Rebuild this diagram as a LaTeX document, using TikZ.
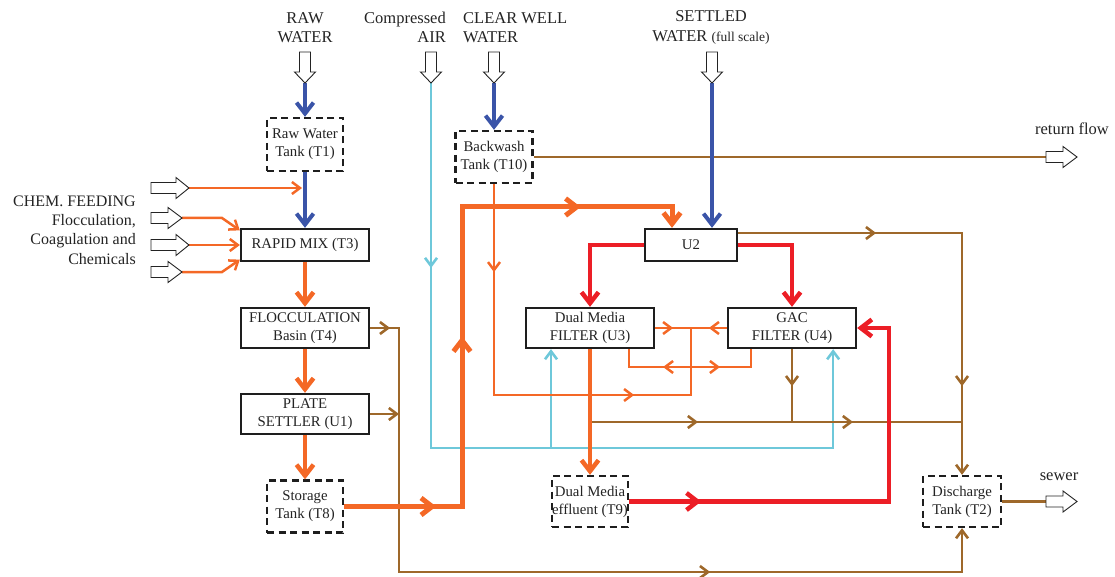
\documentclass[tikz,border=0pt]{standalone}
\usepackage{fontspec}
\setmainfont{Liberation Serif}
\usetikzlibrary{arrows.meta,decorations.markings,calc}
\definecolor{cblue}{RGB}{58,84,168}
\definecolor{corange}{RGB}{244,104,38}
\definecolor{cred}{RGB}{236,30,38}
\definecolor{cbrown}{RGB}{158,104,42}
\definecolor{ccyan}{RGB}{110,200,218}
\definecolor{cbox}{RGB}{30,30,30}
\definecolor{ctext}{RGB}{35,35,35}
\tikzset{
  btip/.tip={Straight Barb[length=11pt,width=17pt]},
  stip/.tip={Straight Barb[length=8pt,width=12pt]},
  unit/.style={draw=cbox, line width=2.3pt, align=center, inner sep=0pt, text=ctext, font=\fontsize{14.8}{18}\selectfont},
  tank/.style={unit, dash pattern=on 7pt off 4.5pt},
  lbl/.style={text=ctext, font=\fontsize{16.5}{19.5}\selectfont, inner sep=0pt},
  bluel/.style={draw=cblue, line width=4pt},
  orB/.style={draw=corange, line width=4.5pt},
  orS/.style={draw=corange, line width=2.5pt},
  redl/.style={draw=cred, line width=4.5pt},
  brl/.style={draw=cbrown, line width=2.6pt},
  cyl/.style={draw=ccyan, line width=2.6pt},
  mkb/.style={postaction={decorate,decoration={markings,mark=at position #1 with {\arrow{btip}}}}},
  mks/.style={postaction={decorate,decoration={markings,mark=at position #1 with {\arrow{stip}}}}},
  pics/hollow/.style 2 args={code={\draw[line width=0.9pt, draw=ctext, fill=white] (0,-5.5) -- (#2,-5.5) -- (#2,-10.5) -- (#1,0) -- (#2,10.5) -- (#2,5.5) -- (0,5.5) -- cycle;}},
}
\begin{document}
\begin{tikzpicture}[x=1pt,y=-1pt,line join=miter]
\useasboundingbox (0,0) rectangle (1115,577);

% ---------- nodes ----------
\node[tank, minimum width=76pt, minimum height=53pt] (T1) at (305,144.5) {Raw Water\\Tank (T1)};
\node[unit, minimum width=128pt, minimum height=32pt] (T3) at (305,245) {RAPID MIX (T3)};
\node[unit, minimum width=128pt, minimum height=40pt] (T4) at (305,328) {FLOCCULATION\\Basin (T4)};
\node[unit, minimum width=128pt, minimum height=40pt] (U1) at (305,414) {PLATE\\SETTLER (U1)};
\node[tank, minimum width=76pt, minimum height=52pt] (T8) at (305,506.5) {Storage\\Tank (T8)};
\node[tank, minimum width=77pt, minimum height=52pt] (T10) at (494,157) {Backwash\\Tank (T10)};
\node[unit, minimum width=92pt, minimum height=32pt] (U2) at (691,245) {U2};
\node[unit, minimum width=128pt, minimum height=40pt] (U3) at (590,328) {Dual Media\\FILTER (U3)};
\node[unit, minimum width=128pt, minimum height=40pt] (U4) at (792,328) {GAC\\FILTER (U4)};
\node[tank, minimum width=76pt, minimum height=51pt] (T9) at (590,501.5) {Dual Media\\effluent (T9)};
\node[tank, minimum width=78pt, minimum height=51pt] (T2) at (962,501.5) {Discharge\\Tank (T2)};

% ---------- labels ----------
\node[lbl, align=center] (rawlbl) at (305,27.5) {RAW\\WATER};
\node[lbl, align=right, anchor=east] (airlbl) at (446,27.5) {Compressed\\AIR};
\node[lbl, align=left, anchor=west] (cwlbl) at (463,27.5) {CLEAR WELL\\WATER};
\node[lbl, align=center] (stlbl) at (711,27.5) {SETTLED\\WATER {\fontsize{13.5}{14}\selectfont(full scale)}};
\node[lbl, align=right, anchor=east, font=\fontsize{16}{19.3}\selectfont] (chemlbl) at (136,230) {CHEM. FEEDING\\Flocculation,\\Coagulation and\\Chemicals};
\node[lbl] (retlbl) at (1072,129) {return flow};
\node[lbl] (sewlbl) at (1059,477) {sewer};

% ---------- coordinates ----------
\coordinate (rawtip) at (305,83);
\coordinate (airtip) at (431,83);
\coordinate (cwtip) at (494,83);
\coordinate (sttip) at (712,83);
\coordinate (c1) at (189,188);
\coordinate (c2) at (182,218);
\coordinate (c3) at (189,245);
\coordinate (c4) at (182,272);
\coordinate (retin) at (1046,157);
\coordinate (sewin) at (1046,501.5);
\coordinate (sA) at (462,207);
\coordinate (oj) at (691,328);
\coordinate (oj2) at (691,367);
\coordinate (oj3) at (691,395);
\coordinate (bk) at (399,572);
\coordinate (bj1) at (590,422);
\coordinate (bj2) at (962,422);
\coordinate (cy) at (431,448);
\coordinate (cy2) at (551,448);

% ---------- cyan (air) ----------
\draw[cyl,-{stip}, mks=185pt] (airtip) -- (cy) -| ($(U4.south east)+(-24,0)$);
\draw[cyl,-{stip}] (cy2) -- (cy2 |- U3.south);

% ---------- brown ----------
\draw[brl,-{stip}, mks=138pt, mks=377pt] ($(U2.east)+(0,-12)$) -| (T2.north);
\draw[brl] (T10.east) -- (retin);
\draw[brl,-{stip}, mks=20pt, mks=584pt] (T4.east) -| (bk) -| (T2.south);
\draw[brl,-{stip}] (U1.east) -- (U1.east -| bk);
\draw[brl, mks=108pt, mks=263pt] (bj1) -- (bj2);
\draw[brl, mks=37pt] (U4.south) -- (U4.south |- bj1);
\draw[brl] (T2.east) -- (sewin);

% ---------- orange thin ----------
\draw[orS,-{stip}] (c1) -- ($(c1 -| T1.south)+(-3,0)$);
\draw[orS,-{stip}] (c2) -- ++(40,0) -- ($(T3.north west)+(0,2.5)$);
\draw[orS,-{stip}] (c3) -- (c3 -| T3.west);
\draw[orS,-{stip}] (c4) -- ++(40,0) -- ($(T3.south west)+(0,-2.5)$);
\draw[orS, mks=88pt, mks=351pt] (T10.south) |- (oj3) -- (oj);
\draw[orS, mks=18pt] (U3.east) -- (oj);
\draw[orS, mks=18pt] (U4.west) -- (oj);
\draw[orS, mks=28pt] (oj2) -| ($(U3.south east)+(-26,0)$);
\draw[orS, mks=29pt] (oj2) -| ($(U4.south west)+(24,0)$);

% ---------- orange thick ----------
\draw[orB,-{btip}] (T3.south) -- (T4.north);
\draw[orB,-{btip}] (T4.south) -- (U1.north);
\draw[orB,-{btip}] (U1.south) -- (T8.north);
\draw[orB, line width=5pt, -{btip}, mkb=92pt, mkb=288pt, mkb=536pt] (T8.east) -| (sA) -| ($(U2.north)+(-19,0)$);
\draw[orB,-{btip}] (U3.south) -- (T9.north);

% ---------- red ----------
\draw[redl,-{btip}] (U2.west) -| (U3.north);
\draw[redl,-{btip}] (U2.east) -| (U4.north);
\draw[redl,-{btip}, mkb=72pt] (T9.east) -| ($(U4.east)+(32,0)$) -- (U4.east);

% ---------- blue ----------
\draw[bluel,-{btip}] (rawtip) -- (T1.north);
\draw[bluel,-{btip}] (T1.south) -- (T3.north);
\draw[bluel,-{btip}] (cwtip) -- (cwtip |- T10.north);
\draw[bluel,-{btip}] (sttip) -- (sttip |- U2.north);

% ---------- hollow arrows ----------
\pic[rotate=-90] at (305,52) {hollow={31}{20}};
\pic[rotate=-90] at (431,52) {hollow={31}{20}};
\pic[rotate=-90] at (494,52) {hollow={31}{20}};
\pic[rotate=-90] at (712,52) {hollow={31}{20}};
\pic at (151,188) {hollow={38}{25}};
\pic at (151,218) {hollow={31}{17}};
\pic at (151,245) {hollow={38}{25}};
\pic at (151,272) {hollow={31}{17}};
\pic at (1046,157) {hollow={31}{17}};
\pic at (1046,501.5) {hollow={31}{17}};
\end{tikzpicture}
\end{document}
